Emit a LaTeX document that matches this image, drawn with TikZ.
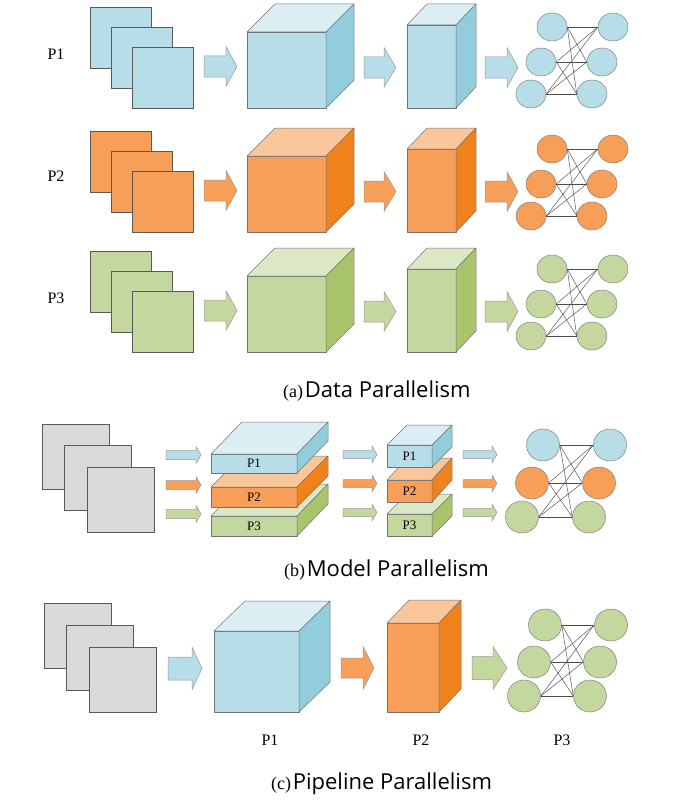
\documentclass[tikz,border=0pt]{standalone}
\usepackage{fontspec}
\setmainfont{Liberation Serif}
\newfontfamily\capfont{Open Sans}
\usetikzlibrary{shapes.geometric}
\definecolor{bF}{HTML}{B7DDE8}
\definecolor{bT}{HTML}{DAEEF3}
\definecolor{bS}{HTML}{92CDDC}
\definecolor{oF}{HTML}{F79E58}
\definecolor{oT}{HTML}{FAC79C}
\definecolor{oS}{HTML}{F0821E}
\definecolor{gF}{HTML}{C4D79E}
\definecolor{gT}{HTML}{DCE7C6}
\definecolor{gS}{HTML}{A8C46C}
\definecolor{grF}{HTML}{D9D9D9}
\tikzset{
  sqr/.style={draw=black!65, line width=0.6pt},
  face/.style={draw=black!55, line width=0.5pt, line join=round},
  barrow/.style={draw=black!40, line width=0.5pt, line join=miter},
  neuron/.style={ellipse, draw=black!50, line width=0.5pt, inner sep=0pt, minimum width=30pt, minimum height=28pt},
  bneuron/.style={neuron, minimum width=33pt, minimum height=32pt},
  syn/.style={draw=black!70, line width=0.45pt},
  lbl/.style={font=\fontsize{16}{16}\selectfont, inner sep=0pt},
  slbl/.style={font=\fontsize{13}{13}\selectfont, inner sep=0pt},
  captxt/.style={anchor=base west, inner sep=0pt},
}
\newcommand{\capA}[2]{{\fontsize{18}{18}\selectfont (#1)}\,{\capfont\fontsize{22}{22}\selectfont #2}}
% block arrow: x1 x2 xhead yc shafthalf headhalf fill
\newcommand{\blockarr}[7]{%
  \draw[barrow, fill=#7] (#1,#4-#5) -- (#3,#4-#5) -- (#3,#4-#6) -- (#2,#4) -- (#3,#4+#6) -- (#3,#4+#5) -- (#1,#4+#5) -- cycle;}
% cuboid: x y w h dx dy front top side
\newcommand{\cuboid}[9]{%
  \draw[face, fill=#7] (#1,#2) rectangle ++(#3,#4);
  \draw[face, fill=#8] (#1,#2) -- ++(#5,-#6) -- ++(#3,0) -- ++(-#5,#6) -- cycle;
  \draw[face, fill=#9] (#1+#3,#2) -- ++(#5,-#6) -- ++(0,#4) -- ++(-#5,#6) -- cycle;}
% stack of three sheets: x y w h dx dy fill
\newcommand{\sheets}[7]{%
  \draw[sqr, fill=#7] (#1,#2) rectangle ++(#3,#4);
  \draw[sqr, fill=#7] (#1+#5,#2+#6) rectangle ++(#3,#4);
  \draw[sqr, fill=#7] (#1+2*#5,#2+2*#6) rectangle ++(#3,#4);}
% neural net: prefix x y dxTR dyMid dyBot colTop colMid colBot
\def\nnstyle{neuron}
\newcommand{\nnet}[9]{%
  \node[\nnstyle, fill=#7] (#1TL) at (#2,#3) {};
  \node[\nnstyle, fill=#7] (#1TR) at (#2+#4,#3) {};
  \node[\nnstyle, fill=#8] (#1ML) at (#2-11,#3+#5) {};
  \node[\nnstyle, fill=#8] (#1MR) at (#2+#4-11,#3+#5) {};
  \node[\nnstyle, fill=#9] (#1BL) at (#2-21,#3+#6) {};
  \node[\nnstyle, fill=#9] (#1BR) at (#2+#4-21,#3+#6) {};
  \foreach \l in {TL,ML,BL}{\foreach \r in {TR,MR,BR}{\draw[syn] (#1\l.east) -- (#1\r.west);}}}
\begin{document}
\begin{tikzpicture}[x=1pt,y=-1pt]
\useasboundingbox (0,0) rectangle (695,800);
\fill[white] (0,0) rectangle (695,800);
% ---------------- (a) ----------------
\node[lbl] (pa1) at (56,54) {P1};
\node[lbl] (pa2) at (56,176) {P2};
\node[lbl] (pa3) at (56,298) {P3};
% row 1
\sheets{90}{7}{61}{61}{21}{20}{bF}
\blockarr{204}{237}{226}{66.5}{10.5}{20}{bF}
\cuboid{247}{32}{79}{76}{28}{28}{bF}{bT}{bS}
\blockarr{364}{396}{384}{67.5}{10.5}{20}{bF}
\cuboid{407}{25}{49}{83}{20}{21}{bF}{bT}{bS}
\blockarr{485}{518}{507}{67.5}{10.5}{20}{bF}
\nnet{a}{552}{27}{61}{35}{67}{bF}{bF}{bF}
% row 2
\sheets{90}{131}{61}{61}{21}{20}{oF}
\blockarr{204}{237}{226}{190.5}{10.5}{20}{oF}
\cuboid{247}{156}{79}{76}{28}{28}{oF}{oT}{oS}
\blockarr{364}{396}{384}{191.5}{10.5}{20}{oF}
\cuboid{407}{149}{49}{83}{20}{21}{oF}{oT}{oS}
\blockarr{485}{518}{507}{191.5}{10.5}{20}{oF}
\nnet{b}{552}{149}{61}{35}{67}{oF}{oF}{oF}
% row 3
\sheets{90}{251}{61}{61}{21}{20}{gF}
\blockarr{204}{237}{226}{310.5}{10.5}{20}{gF}
\cuboid{247}{276}{79}{76}{28}{28}{gF}{gT}{gS}
\blockarr{364}{396}{384}{311.5}{10.5}{20}{gF}
\cuboid{407}{269}{49}{83}{20}{21}{gF}{gT}{gS}
\blockarr{485}{518}{507}{311.5}{10.5}{20}{gF}
\nnet{c}{552}{269}{61}{35}{67}{gF}{gF}{gF}
\node[captxt] (capa) at (283,397) {\capA{a}{Data Parallelism}};
% ---------------- (b) ----------------
\sheets{42}{424}{67}{65}{22.5}{21.5}{grF}
\blockarr{166}{201}{196}{455}{4.5}{8.5}{bF}
\blockarr{166}{201}{196}{485}{4.5}{8.5}{oF}
\blockarr{166}{201}{196}{514}{4.5}{8.5}{gF}
\cuboid{211}{516}{86}{20}{31}{32}{gF}{gT}{gS}
\cuboid{211}{487}{86}{20}{31}{31}{oF}{oT}{oS}
\cuboid{211}{454}{86}{19}{31}{32}{bF}{bT}{bS}
\node[slbl] (sl1) at (254,463.5) {P1};
\node[slbl] (sl2) at (254,497) {P2};
\node[slbl] (sl3) at (254,526) {P3};
\blockarr{343}{377}{372}{454.5}{4}{8.5}{bF}
\blockarr{343}{377}{372}{483.5}{4}{8.5}{oF}
\blockarr{343}{377}{372}{512.5}{4}{8.5}{gF}
\cuboid{387}{514}{45}{22}{20}{20}{gF}{gT}{gS}
\cuboid{387}{480}{45}{22}{20}{22}{oF}{oT}{oS}
\cuboid{387}{445}{45}{22}{20}{20}{bF}{bT}{bS}
\node[slbl] (sb1) at (409.5,456) {P1};
\node[slbl] (sb2) at (409.5,491) {P2};
\node[slbl] (sb3) at (409.5,525) {P3};
\blockarr{463}{497}{492}{454.5}{4}{8.5}{bF}
\blockarr{463}{497}{492}{483.5}{4}{8.5}{oF}
\blockarr{463}{497}{492}{512.5}{4}{8.5}{gF}
\def\nnstyle{bneuron}
\nnet{d}{543}{445}{67}{38}{72}{bF}{oF}{gF}
\node[captxt] (capb) at (284,576) {\capA{b}{Model Parallelism}};
% ---------------- (c) ----------------
\sheets{44}{603}{67}{65}{22.5}{22}{grF}
\blockarr{168}{202}{192}{668.5}{11.5}{21.5}{bF}
\cuboid{214}{631}{85}{81}{31}{30}{bF}{bT}{bS}
\blockarr{341}{374}{363}{668}{10}{21.5}{oF}
\cuboid{387}{623}{52}{89}{22}{23}{oF}{oT}{oS}
\blockarr{472}{507}{493}{668}{11.5}{21.5}{gF}
\nnet{e}{545}{625}{66}{37}{71}{gF}{gF}{gF}
\node[lbl] (pc1) at (270,740) {P1};
\node[lbl] (pc2) at (421,740) {P2};
\node[lbl] (pc3) at (562,740) {P3};
\node[captxt] (capc) at (271,789) {\capA{c}{Pipeline Parallelism}};
\end{tikzpicture}
\end{document}
